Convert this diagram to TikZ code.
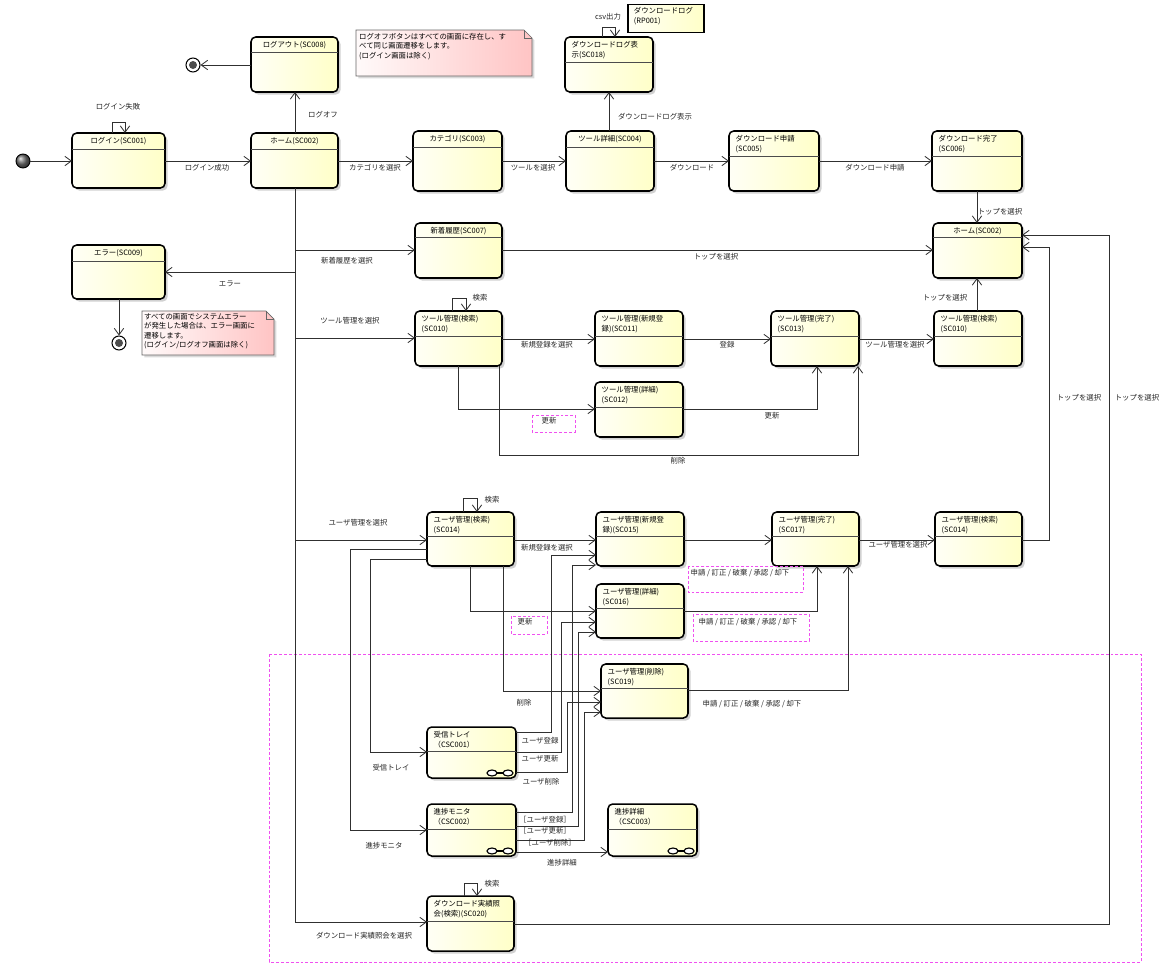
\documentclass[tikz,border=0pt]{standalone}
\usepackage{fontspec}
\setmainfont{Noto Sans CJK JP}
\usepackage{tikz}
\usetikzlibrary{arrows.meta,shadows}
\definecolor{statelite}{HTML}{FFFFF6}
\definecolor{statefill}{HTML}{FFFFC8}
\definecolor{notelite}{HTML}{FFFAFA}
\definecolor{notefill}{HTML}{FFC4C4}
\definecolor{edge}{HTML}{303030}
\definecolor{hilite}{HTML}{F050F0}
\newcommand{\jsmall}{\fontsize{6.3pt}{8.5pt}\selectfont}
\newcommand{\jnote}{\fontsize{6.3pt}{8.1pt}\selectfont}

\tikzset{
  scbox/.style={draw=black, line width=1.3pt, rounded corners=4pt,
    inner sep=0pt, outer sep=0pt, left color=statelite, right color=statefill,
    drop shadow={shadow xshift=2.2pt, shadow yshift=-2.2pt, fill=black, opacity=.18}},
  divider/.style={draw=black!70, line width=0.6pt},
  ttl/.style={font=\jsmall, inner sep=0pt},
  lbl/.style={font=\jsmall, inner sep=0pt, text=black!85},
  tr/.style={draw=edge, line width=0.7pt, -{Straight Barb[length=5.5pt,width=8pt]}},
  initst/.style={circle, draw=black, line width=0.8pt, minimum size=0.42cm,
    inner sep=0pt, ball color=black!55},
  finst/.style={circle, draw=black, line width=0.9pt, minimum size=0.42cm,
    inner sep=0pt, fill=white,
    path picture={\fill[black!70] (path picture bounding box.center) circle (0.12cm);}},
  note/.style={draw=black!60, line width=0.6pt, left color=notelite, right color=notefill,
    drop shadow={shadow xshift=2pt, shadow yshift=-2pt, fill=black, opacity=.15}},
  hbox/.style={draw=hilite, line width=0.6pt, dash pattern=on 2.5pt off 1.7pt},
}

% state box: name, x1, y1, x2, y2, divider y
\newcommand{\statebody}[6]{%
  \node[scbox, minimum width={(#4-#2)*0.03cm}, minimum height={(#5-#3)*0.03cm}]
    (#1) at ({(#2+#4)/2},{(#3+#5)/2}) {};
  \draw[divider] (#1.west |- 0,#6) -- (#1.east |- 0,#6);}
\newcommand{\stateC}[7]{\statebody{#1}{#2}{#3}{#4}{#5}{#6}%
  \node[ttl, anchor=north, align=center] (#1-t) at ([yshift=-3.6pt]#1.north) {#7};}
\newcommand{\stateL}[7]{\statebody{#1}{#2}{#3}{#4}{#5}{#6}%
  \node[ttl, anchor=north west, align=left] (#1-t) at ([shift={(5.5pt,-3.4pt)}]#1.north west) {#7};}
% link mark of a sub machine
\newcommand{\linkmark}[1]{%
  \draw[line width=1pt] ([shift={(-0.57cm,0.15cm)}]#1.south east) -- ([shift={(-0.39cm,0.15cm)}]#1.south east);
  \draw[line width=1pt, fill=white] ([shift={(-0.72cm,0.15cm)}]#1.south east) ellipse [x radius=0.15cm, y radius=0.09cm];
  \draw[line width=1pt, fill=white] ([shift={(-0.24cm,0.15cm)}]#1.south east) ellipse [x radius=0.15cm, y radius=0.09cm];}

\begin{document}
\begin{tikzpicture}[x=0.03cm, y=-0.03cm]
  \fill[white] (0,0) rectangle (1167,968);
  \useasboundingbox (0,0) rectangle (1167,968);

  % region of the workflow screens
  \draw[hbox] (269,654) rectangle (1141,962);

  % notes
  \path[note] (356,30) -- (524,30) -- (532,38) -- (532,76) -- (356,76) -- cycle;
  \draw[draw=black!60, line width=0.6pt] (524,30) -- (524,38) -- (532,38);
  \node[font=\jnote, inner sep=0pt, anchor=north west, align=left] (note1) at (359,33)
    {ログオフボタンはすべての画面に存在し、す\\べて同じ画面遷移をします。\\(ログイン画面は除く)};
  \path[note] (142,311) -- (266,311) -- (274,319) -- (274,355) -- (142,355) -- cycle;
  \draw[draw=black!60, line width=0.6pt] (266,311) -- (266,319) -- (274,319);
  \node[font=\jnote, inner sep=0pt, anchor=north west, align=left] (note2) at (144,313)
    {すべての画面でシステムエラー\\が発生した場合は、エラー画面に\\遷移します。\\(ログイン/ログオフ画面は除く)};
  \node[draw=black, line width=1.3pt, inner sep=0pt, left color=statelite, right color=statefill,
        minimum width=2.28cm, minimum height=0.84cm] (rp001) at (666,18.5) {};
  \node[ttl, anchor=north west, align=left] (rp001-t) at ([shift={(5.5pt,-3pt)}]rp001.north west)
    {ダウンロードログ\\(RP001)};

  % states
  \node[initst] (init) at (23,161) {};
  \node[finst] (fin1) at (193,65) {};
  \node[finst] (fin2) at (119,343) {};
  \stateC{sc001}{72}{133}{165}{188}{149}{ログイン(SC001)}
  \stateC{sc002}{251}{133}{338}{188}{149}{ホーム(SC002)}
  \stateC{sc008}{251}{37}{338}{92}{52}{ログアウト(SC008)}
  \stateL{sc018}{565}{37}{653}{92}{62}{ダウンロードログ表\\示(SC018)}
  \stateC{sc003}{413}{131}{502}{191}{147}{カテゴリ(SC003)}
  \stateC{sc004}{566}{131}{654}{191}{147}{ツール詳細(SC004)}
  \stateL{sc005}{729}{131}{819}{191}{156}{ダウンロード申請\\(SC005)}
  \stateL{sc006}{932}{131}{1022}{191}{156}{ダウンロード完了\\(SC006)}
  \stateC{home2}{933}{223}{1022}{278}{237}{ホーム(SC002)}
  \stateC{sc009}{72}{245}{165}{299}{261}{エラー(SC009)}
  \stateC{sc007}{415}{223}{502}{278}{237}{新着履歴(SC007)}
  \stateL{sc010}{415}{311}{502}{366}{336}{ツール管理(検索)\\(SC010)}
  \stateL{sc011}{595}{311}{683}{366}{336}{ツール管理(新規登\\録)(SC011)}
  \stateL{sc013}{771}{311}{859}{366}{336}{ツール管理(完了)\\(SC013)}
  \stateL{sc010r}{934}{311}{1022}{366}{336}{ツール管理(検索)\\(SC010)}
  \stateL{sc012}{595}{382}{683}{437}{407}{ツール管理(詳細)\\(SC012)}
  \stateL{sc014}{427}{512}{514}{566}{536}{ユーザ管理(検索)\\(SC014)}
  \stateL{sc015}{596}{512}{684}{566}{536}{ユーザ管理(新規登\\録)(SC015)}
  \stateL{sc017}{772}{512}{859}{566}{536}{ユーザ管理(完了)\\(SC017)}
  \stateL{sc014r}{935}{512}{1022}{566}{536}{ユーザ管理(検索)\\(SC014)}
  \stateL{sc016}{596}{584}{684}{638}{608}{ユーザ管理(詳細)\\(SC016)}
  \stateL{sc019}{601}{664}{688}{718}{688}{ユーザ管理(削除)\\(SC019)}
  \stateL{csc001}{427}{727}{516}{778}{751}{受信トレイ\\（CSC001）}
  \stateL{csc002}{427}{804}{516}{856}{829}{進捗モニタ\\（CSC002）}
  \stateL{csc003}{608}{804}{697}{856}{829}{進捗詳細\\（CSC003）}
  \stateL{sc020}{427}{896}{514}{951}{921}{ダウンロード実績照\\会(検索)(SC020)}
  \linkmark{csc001}
  \linkmark{csc002}
  \linkmark{csc003}

  % login / top row
  \draw[tr] (init) -- (init -| sc001.west);
  \draw[tr] (sc001.north -| 112,0) -- (112,122) -| (sc001.north -| 125,0);
  \draw[tr] (sc001.east |- 0,161) -- (sc002.west |- 0,161);
  \draw[tr] (sc002.north -| 295,0) -- (sc008.south -| 295,0);
  \draw[tr] (sc008.west |- 0,65) -- (fin1);
  \draw[tr] (sc002.east |- 0,161) -- (sc003.west |- 0,161);
  \draw[tr] (sc003.east |- 0,161) -- (sc004.west |- 0,161);
  \draw[tr] (sc004.east |- 0,161) -- (sc005.west |- 0,161);
  \draw[tr] (sc005.east |- 0,161) -- (sc006.west |- 0,161);
  \draw[tr] (sc004.north -| 609,0) -- (sc018.south -| 609,0);
  \draw[tr] (sc018.north -| 602,0) -- (602,27) -| (sc018.north -| 615,0);
  \draw[tr] (sc006.south -| 977,0) -- (home2.north -| 977,0);
  \draw[tr] (sc007.east |- 0,250) -- (home2.west |- 0,250);

  % menu trunk from home
  \draw[tr] (sc002.south -| 295,0) |- (sc009.east |- 0,272);
  \draw[tr] (sc002.south -| 295,0) |- (sc007.west |- 0,250);
  \draw[tr] (sc002.south -| 295,0) |- (sc010.west |- 0,338);
  \draw[tr] (sc002.south -| 295,0) |- (sc014.west |- 0,540);
  \draw[tr] (sc002.south -| 295,0) |- (sc020.west |- 0,922);
  \draw[tr] (sc009.south -| 119,0) -- (fin2);

  % tool management
  \draw[tr] (sc010.north -| 452,0) -- (452,298) -| (sc010.north -| 466,0);
  \draw[tr] (sc010.east |- 0,339) -- (sc011.west |- 0,339);
  \draw[tr] (sc011.east |- 0,339) -- (sc013.west |- 0,339);
  \draw[tr] (sc013.east |- 0,339) -- (sc010r.west |- 0,339);
  \draw[tr] (sc010r.north -| 977,0) -- (home2.south -| 977,0);
  \draw[tr] (sc010.south -| 458,0) |- (sc012.west |- 0,409);
  \draw[tr] (sc012.east |- 0,409) -| (sc013.south -| 817,0);
  \draw[tr] (sc010.south -| 499,0) -- (499,455) -| (sc013.south -| 858,0);

  % user management
  \draw[tr] (sc014.north -| 463,0) -- (463,498) -| (sc014.north -| 477,0);
  \draw[tr] (sc014.east |- 0,540) -- (sc015.west |- 0,540);
  \draw[tr] (sc015.east |- 0,540) -- (sc017.west |- 0,540);
  \draw[tr] (sc017.east |- 0,540) -- (sc014r.west |- 0,540);
  \draw[tr] (sc014r.east |- 0,540) -- (1049,540) |- (home2.east |- 0,247);
  \draw[tr] (sc014.south -| 470,0) |- (sc016.west |- 0,611);
  \draw[tr] (sc016.east |- 0,611) -| (sc017.south -| 817,0);
  \draw[tr] (sc014.south -| 503,0) |- (sc019.west |- 0,691);
  \draw[tr] (sc019.east |- 0,690) -| (sc017.south -| 848,0);
  \draw[tr] (sc014.west |- 0,559) -- (370,559) |- (csc001.west |- 0,752);
  \draw[tr] (sc014.west |- 0,549) -- (350,549) |- (csc002.west |- 0,830);
  \draw[tr] (csc001.east |- 0,732) -- (551,732) |- (sc015.west |- 0,555);
  \draw[tr] (csc001.east |- 0,752) -- (561,752) |- (sc016.west |- 0,622);
  \draw[tr] (csc001.east |- 0,772) -- (567,772) |- (sc019.west |- 0,702);
  \draw[tr] (csc002.east |- 0,812) -- (572,812) |- (sc015.west |- 0,565);
  \draw[tr] (csc002.east |- 0,826) -- (578,826) |- (sc016.west |- 0,632);
  \draw[tr] (csc002.east |- 0,840) -- (584,840) |- (sc019.west |- 0,712);
  \draw[tr] (csc002.east |- 0,852) -- (csc003.west |- 0,852);
  \draw[tr] (sc020.north -| 464,0) -- (464,883) -| (sc020.north -| 477,0);
  \draw[tr] (sc020.east |- 0,924) -- (1109,924) |- (home2.east |- 0,235);

  % guard boxes
  \draw[hbox] (532,415) rectangle (575,432);
  \draw[hbox] (511,616) rectangle (547,634);
  \draw[hbox] (688,566) rectangle (803,592);
  \draw[hbox] (693,614) rectangle (809,641);

  % transition labels
  \node[lbl] (l-fail)   at (118,107) {ログイン失敗};
  \node[lbl] (l-ok)     at (207,168) {ログイン成功};
  \node[lbl] (l-off)    at (323,115) {ログオフ};
  \node[lbl] (l-csv)    at (608,17)  {csv出力};
  \node[lbl] (l-log)    at (655,117) {ダウンロードログ表示};
  \node[lbl] (l-cat)    at (375,168) {カテゴリを選択};
  \node[lbl] (l-tool)   at (533,168) {ツールを選択};
  \node[lbl] (l-dl)     at (692,168) {ダウンロード};
  \node[lbl] (l-dlreq)  at (875,168) {ダウンロード申請};
  \node[lbl] (l-top1)   at (1000,212) {トップを選択};
  \node[lbl] (l-top2)   at (716,257) {トップを選択};
  \node[lbl] (l-err)    at (230,284) {エラー};
  \node[lbl] (l-new)    at (347,261) {新着履歴を選択};
  \node[lbl] (l-tmg)    at (350,321) {ツール管理を選択};
  \node[lbl] (l-umg)    at (358,523) {ユーザ管理を選択};
  \node[lbl] (l-dlref)  at (364,936) {ダウンロード実績照会を選択};
  \node[lbl] (l-srch1)  at (480,298) {検索};
  \node[lbl] (l-treg)   at (547,345) {新規登録を選択};
  \node[lbl] (l-reg)    at (727,345) {登録};
  \node[lbl] (l-tmg2)   at (895,345) {ツール管理を選択};
  \node[lbl] (l-top3)   at (945,298) {トップを選択};
  \node[lbl] (l-upd1)   at (549,421) {更新};
  \node[lbl] (l-upd2)   at (772,416) {更新};
  \node[lbl] (l-del1)   at (678,461) {削除};
  \node[lbl] (l-srch2)  at (492,500) {検索};
  \node[lbl] (l-ureg)   at (547,548) {新規登録を選択};
  \node[lbl] (l-umg2)   at (898,545) {ユーザ管理を選択};
  \node[lbl] (l-top4)   at (1079,398) {トップを選択};
  \node[lbl] (l-top5)   at (1137,398) {トップを選択};
  \node[lbl] (l-act1)   at (740,573) {申請 / 訂正 / 破棄 / 承認 / 却下};
  \node[lbl] (l-act2)   at (748,622) {申請 / 訂正 / 破棄 / 承認 / 却下};
  \node[lbl] (l-act3)   at (752,704) {申請 / 訂正 / 破棄 / 承認 / 却下};
  \node[lbl] (l-upd3)   at (525,622) {更新};
  \node[lbl] (l-del2)   at (524,703) {削除};
  \node[lbl] (l-inbox)  at (391,768) {受信トレイ};
  \node[lbl] (l-mon)    at (384,846) {進捗モニタ};
  \node[lbl] (l-c1reg)  at (540,741) {ユーザ登録};
  \node[lbl] (l-c1upd)  at (540,759) {ユーザ更新};
  \node[lbl] (l-c1del)  at (541,782) {ユーザ削除};
  \node[lbl] (l-c2reg)  at (545,820) {［ユーザ登録］};
  \node[lbl] (l-c2upd)  at (545,831) {［ユーザ更新］};
  \node[lbl] (l-c2del)  at (550,843) {［ユーザ削除］};
  \node[lbl] (l-detail) at (562,863) {進捗詳細};
  \node[lbl] (l-srch3)  at (492,884) {検索};
\end{tikzpicture}
\end{document}
